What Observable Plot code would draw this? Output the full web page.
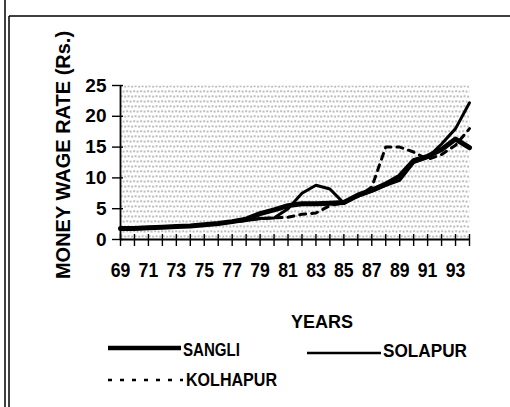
<!DOCTYPE html>
<html><head><meta charset="utf-8">
<script src="https://cdn.jsdelivr.net/npm/d3@7"></script>
<script src="https://cdn.jsdelivr.net/npm/@observablehq/plot@0.6"></script>
<style>html,body{margin:0;padding:0;background:#fff;}#chart svg{display:block;}</style>
</head><body><div id="chart"></div>
<script>
const years = [69,70,71,72,73,74,75,76,77,78,79,80,81,82,83,84,85,86,87,88,89,90,91,92,93,94];
const sangli   = [1.8,1.8,1.9,2.0,2.1,2.2,2.4,2.6,2.9,3.3,4.2,4.8,5.5,5.8,5.8,5.9,6.0,7.2,8.0,9.0,10.3,12.8,13.5,14.6,16.3,14.9];
const solapur  = [1.8,1.8,1.9,2.0,2.1,2.2,2.4,2.6,2.9,3.1,3.4,3.5,5.0,7.5,8.8,8.2,5.9,7.0,7.8,8.8,9.6,12.5,13.3,15.5,18.0,22.2];
const kolhapur = [1.8,1.8,1.9,2.0,2.1,2.2,2.4,2.6,2.9,3.1,3.4,3.5,3.6,4.1,4.3,5.5,6.0,7.0,8.5,15.0,15.0,14.2,13.0,13.8,15.3,18.0];
const xTickLabels = [69,71,73,75,77,79,81,83,85,87,89,91,93];
const yTicks = [0,5,10,15,20,25];
const yLabel = "MONEY WAGE RATE (Rs.)";
const xLabel = "YEARS";
const seriesNames = ["SANGLI","SOLAPUR","KOLHAPUR"];

const rows = (vals) => years.map((y,i) => ({year:y, value:vals[i]}));
const font = "'Liberation Sans',Arial,sans-serif";

const chart = Plot.plot({
  width:510, height:407,
  marginLeft:120, marginRight:41, marginTop:85, marginBottom:168,
  style:{fontFamily:font, fontWeight:"bold", background:"#fff", color:"#000"},
  x:{domain:[69,94]},
  y:{domain:[0,25]},
  marks:[
    Plot.frame({fill:"url(#dots)", stroke:null}),
    Plot.ruleY(yTicks, {y:d=>d, x1:69, x2:69, insetLeft:-8, insetRight:-3, stroke:"#000", strokeWidth:1.4}),
    Plot.ruleX(years, {x:d=>d, y1:0, y2:0, insetTop:-5, insetBottom:-7, stroke:"#000", strokeWidth:1.4}),
    Plot.ruleX([69], {stroke:"#000", strokeWidth:1.8}),
    Plot.ruleY([0], {stroke:"#000", strokeWidth:1.8}),
    Plot.axisX(xTickLabels, {tickSize:0, tickPadding:23, fontSize:21, fontWeight:"bold", tickFormat:d=>String(d), label:null}),
    Plot.axisY(yTicks, {tickSize:0, tickPadding:14, fontSize:19, fontWeight:"bold", label:null}),
    Plot.line(rows(kolhapur), {x:"year", y:"value", stroke:"#000", strokeWidth:3, strokeDasharray:"6,6"}),
    Plot.line(rows(solapur), {x:"year", y:"value", stroke:"#000", strokeWidth:3}),
    Plot.line(rows(sangli), {x:"year", y:"value", stroke:"#000", strokeWidth:5})
  ]
});

const svg = d3.select(chart);
// condense x tick labels (narrow bold look)
svg.selectAll("g[aria-label='x-axis tick label'] text").each(function(){
  const t = this.getAttribute("transform") || "";
  this.setAttribute("transform", t + " scale(0.84,1)");
});

const defs = svg.insert("defs", ":first-child");
const pat = defs.append("pattern").attr("id","dots").attr("patternUnits","userSpaceOnUse")
  .attr("width",7).attr("height",10);
pat.append("rect").attr("width",7).attr("height",10).attr("fill","#fff");
[[0,0],[3.5,0.5],[1.5,5],[5,5.5]].forEach(([x,y]) =>
  pat.append("rect").attr("x",x).attr("y",y).attr("width",1.2).attr("height",1.3).attr("fill","#555"));

// frame borders of the scanned page
const deco = svg.append("g").attr("stroke","#000").attr("stroke-width",1.5);
deco.append("line").attr("x1",5).attr("x2",5).attr("y1",0).attr("y2",407);
deco.append("line").attr("x1",9).attr("x2",9).attr("y1",16).attr("y2",407);
deco.append("line").attr("x1",9).attr("x2",510).attr("y1",16).attr("y2",16);

// y label
svg.append("text").text(yLabel)
  .attr("transform","translate(70,155) rotate(-90)")
  .attr("text-anchor","middle").attr("font-family",font).attr("font-weight","bold")
  .attr("font-size",20).attr("fill","#000");
// x label
svg.append("text").text(xLabel).attr("x",322).attr("y",328)
  .attr("text-anchor","middle").attr("font-family",font).attr("font-weight","bold")
  .attr("font-size",18).attr("fill","#000");

// legend
const leg = svg.append("g").attr("text-anchor","start").attr("font-family",font).attr("font-weight","bold").attr("font-size",18).attr("fill","#000");
const legText = (s, x, y, w) => leg.append("text").text(s).attr("x",x).attr("y",y)
  .attr("text-anchor","start").attr("textLength",w).attr("lengthAdjust","spacingAndGlyphs");
leg.append("line").attr("x1",108).attr("x2",181).attr("y1",348).attr("y2",348).attr("stroke","#000").attr("stroke-width",4.5);
legText(seriesNames[0], 183, 356, 57);
leg.append("line").attr("x1",307).attr("x2",381).attr("y1",353).attr("y2",353).attr("stroke","#000").attr("stroke-width",2.5);
legText(seriesNames[1], 383, 357, 84);
leg.append("line").attr("x1",108).attr("x2",183).attr("y1",380).attr("y2",380).attr("stroke","#000").attr("stroke-width",2.5).attr("stroke-dasharray","4,8");
legText(seriesNames[2], 186, 386, 91);

document.getElementById("chart").appendChild(chart);
</script>
</body></html>
